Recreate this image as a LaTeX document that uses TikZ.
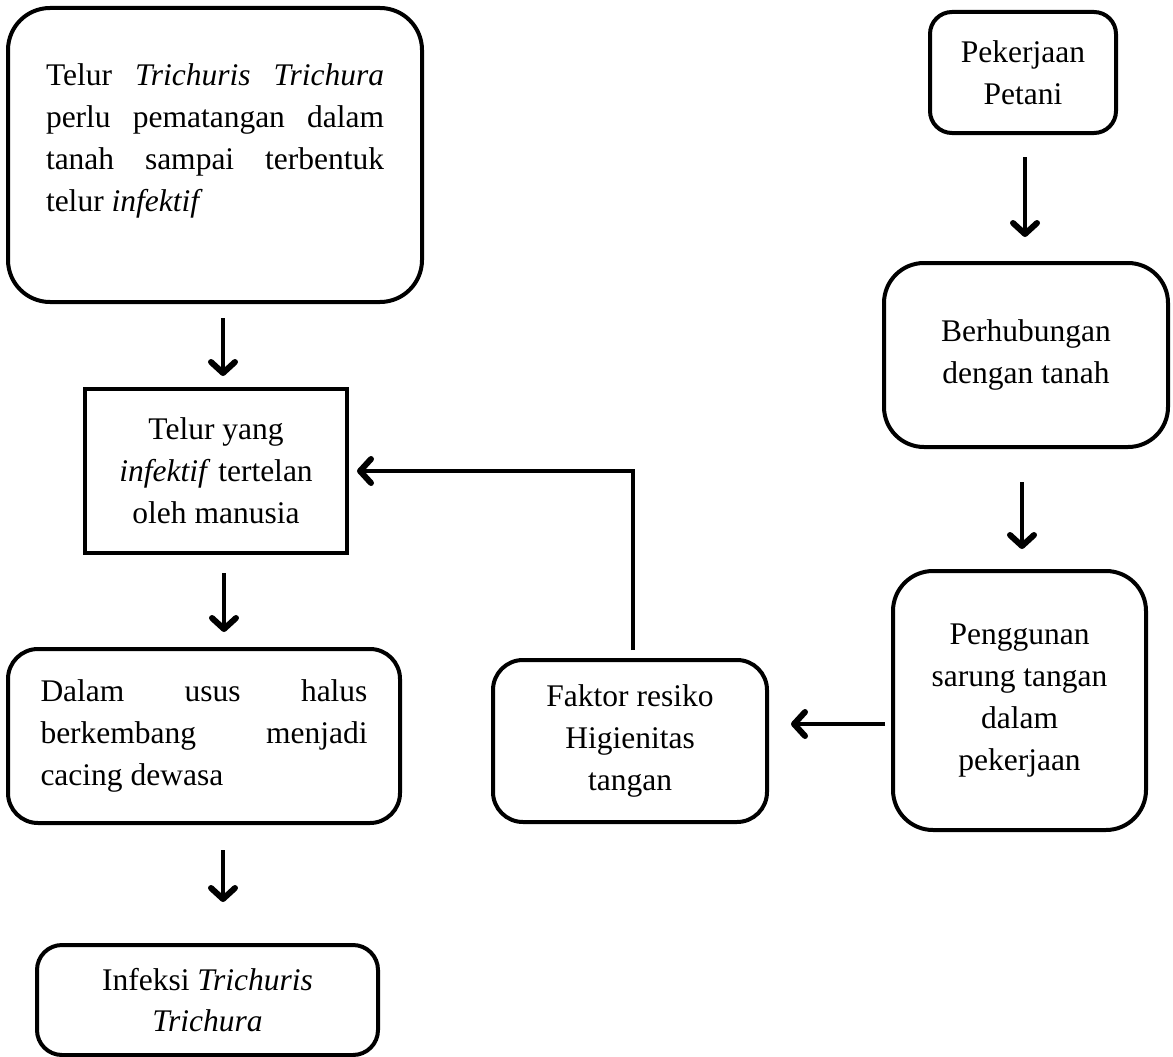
\documentclass[tikz,border=0pt]{standalone}
\usepackage{fontspec}
\setmainfont{Liberation Serif}
\usetikzlibrary{arrows.meta}
\begin{document}
\begin{tikzpicture}[x=1pt,y=-1pt,
  box/.style={draw, line width=4pt, rounded corners=#1, inner sep=0pt, align=center,
    font=\fontsize{31.5}{41.8}\selectfont},
  box/.default=30pt,
  sqbox/.style={draw, line width=4pt, sharp corners, inner sep=0pt, align=center,
    font=\fontsize{31.5}{41.8}\selectfont},
  arr/.style={line width=4pt, -{Straight Barb[length=11pt,width=24pt,line width=6pt 0,round]}}]
\useasboundingbox (0,0) rectangle (1173,1057);
\fill[white] (0,0) rectangle (1173,1057);

% left column
\node[box=42pt, minimum width=414pt, minimum height=294pt] (b1) at (215,155)
  {\parbox[c][294pt][t]{338pt}{\tolerance=10000\hyphenpenalty=10000
   \vspace*{56pt}%
   Telur \textit{Trichuris Trichura}\linebreak
   perlu pematangan dalam\linebreak
   tanah sampai terbentuk\linebreak
   telur \textit{infektif}}};

\node[sqbox, minimum width=262pt, minimum height=164pt] (b2) at (216,471)
  {Telur yang\\\textit{infektif} tertelan\\oleh manusia};

\node[box=30pt, minimum width=392pt, minimum height=174pt] (b3) at (204,736)
  {\parbox{327pt}{\tolerance=10000\hyphenpenalty=10000
   Dalam usus halus\linebreak
   berkembang menjadi\linebreak
   cacing dewasa}};

\node[box=25pt, minimum width=341pt, minimum height=110pt] (b4) at (207.5,1000)
  {Infeksi \textit{Trichuris}\\\textit{Trichura}};

% middle
\node[box=30pt, minimum width=274pt, minimum height=162pt] (fak) at (630,741)
  {Faktor resiko\\Higienitas\\tangan};

% right column
\node[box=22pt, minimum width=186pt, minimum height=121pt] (pek) at (1023,72.5)
  {Pekerjaan\\Petani};

\node[box=40pt, minimum width=284pt, minimum height=184pt] (ber) at (1026,355)
  {Berhubungan\\dengan tanah};

\node[box=40pt, minimum width=253pt, minimum height=259pt] (pen) at (1019.5,700.5)
  {Penggunan\\sarung tangan\\dalam\\pekerjaan};

% connectors
\draw[arr, shorten <=14pt, shorten >=11pt] ([xshift=8pt]b1.south) -- ([xshift=7pt]b2.north);
\draw[arr, shorten <=18pt, shorten >=15pt] ([xshift=8pt]b2.south) -- ([xshift=20pt]b3.north);
\draw[arr, shorten <=25pt, shorten >=41pt] ([xshift=19pt]b3.south) -- ([xshift=15.5pt]b4.north);
\draw[arr, shorten <=22pt, shorten >=24pt] ([xshift=2pt]pek.south) -- ([xshift=-1pt]ber.north);
\draw[arr, shorten <=33pt, shorten >=20pt] ([xshift=-4pt]ber.south) -- ([xshift=2.5pt]pen.north);
\draw[arr, shorten <=6pt, shorten >=22pt] ([yshift=-23.5pt]pen.west) -- ([yshift=17pt]fak.east);
\draw[arr, shorten <=8pt, shorten >=8pt] ([xshift=3pt]fak.north) |- (b2.east);
\end{tikzpicture}
\end{document}
